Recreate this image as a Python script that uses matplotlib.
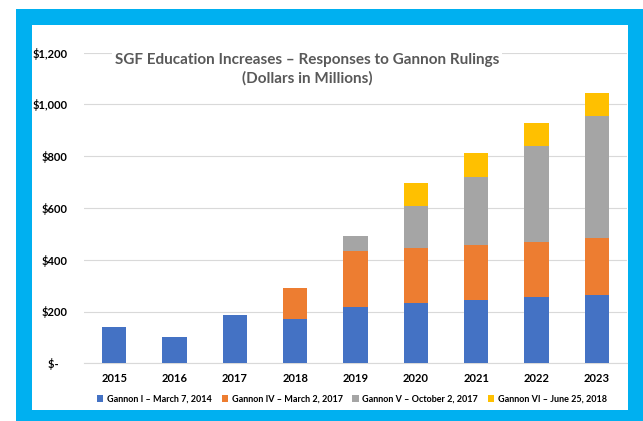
import matplotlib
matplotlib.use("Agg")
import matplotlib.pyplot as plt
from matplotlib.patches import Rectangle, Patch
import numpy as np

years = ["2015", "2016", "2017", "2018", "2019", "2020", "2021", "2022", "2023"]
gannon_i = [140, 100, 185, 172, 218, 232, 243, 255, 264]
gannon_iv = [0, 0, 0, 118, 215, 213, 215, 213, 220]
gannon_v = [0, 0, 0, 0, 60, 161, 262, 370, 471]
gannon_vi = [0, 0, 0, 0, 0, 91, 92, 90, 87]
series_names = ["Gannon I \u2013 March 7, 2014", "Gannon IV \u2013 March 2, 2017",
                "Gannon V \u2013 October 2, 2017", "Gannon VI \u2013 June 25, 2018"]
colors = ["#4472C4", "#ED7D31", "#A5A5A5", "#FFC000"]
yticks = [0, 200, 400, 600, 800, 1000, 1200]
ytick_labels = ["$-   ", "$200", "$400", "$600", "$800", "$1,000", "$1,200"]

plt.rcParams['font.family'] = ['Lato', 'DejaVu Sans']

W, H = 643, 421
fig = plt.figure(figsize=(W / 100, H / 100), dpi=100)
fig.patch.set_facecolor("white")

# blue frame
fig.patches.append(Rectangle((15.7 / W, 0), 1 - 15.7 / W, 1 - 9 / H, transform=fig.transFigure,
                             facecolor="#00B0F0", edgecolor="none", zorder=-2))
fig.patches.append(Rectangle((31.7 / W, 1 - 410 / H), (628 - 31.7) / W, (410 - 25) / H,
                             transform=fig.transFigure, facecolor="white", edgecolor="none", zorder=-1))

left, right = 84 / W, 627 / W
bottom = (H - 363.3) / H
top = (H - 52.5) / H
ax = fig.add_axes([left, bottom, right - left, top - bottom])
ax.set_facecolor("none")
ax.set_zorder(2)

x = np.arange(len(years))
bottoms = np.zeros(len(years))
for vals, c in zip([gannon_i, gannon_iv, gannon_v, gannon_vi], colors):
    v = np.array(vals, dtype=float)
    ax.bar(x, v, width=0.4, bottom=bottoms, color=c, zorder=3)
    bottoms += v

ax.set_xlim(-0.5, len(years) - 0.5)
ax.set_ylim(0, 1200)
ax.set_yticks(yticks)
ax.set_yticklabels(ytick_labels, fontsize=8, fontweight="bold", color="#000000")
ax.set_xticks(x)
ax.set_xticklabels(years, fontsize=8, fontweight="bold", color="#000000")
ax.tick_params(axis="both", length=0)
ax.tick_params(axis="y", pad=12)
ax.tick_params(axis="x", pad=7)
ax.grid(axis="y", color="#D9D9D9", linewidth=0.8, zorder=0)
for s in ["top", "right", "left"]:
    ax.spines[s].set_visible(False)
ax.spines["bottom"].set_color("#D9D9D9")
ax.spines["bottom"].set_linewidth(0.8)

fig.text(307 / W, 1 - 69.5 / H,
         "SGF Education Increases \u2013 Responses to Gannon Rulings\n(Dollars in Millions)",
         ha="center", va="center", fontsize=11, fontweight="bold", color="#595959",
         linespacing=1.35, zorder=5,
         bbox=dict(boxstyle="square,pad=0.2", facecolor="white", edgecolor="none"))

handles = [Patch(facecolor=c, edgecolor="none") for c in colors]
leg = fig.legend(handles, series_names, loc="center", bbox_to_anchor=(352 / W, 1 - 399 / H),
                 ncol=4, frameon=False, handlelength=0.7, handleheight=0.7,
                 handletextpad=0.4, columnspacing=1.1, prop={"weight": "bold", "size": 6.5})
for t in leg.get_texts():
    t.set_color("#000000")

fig.savefig("out.png", dpi=100)
